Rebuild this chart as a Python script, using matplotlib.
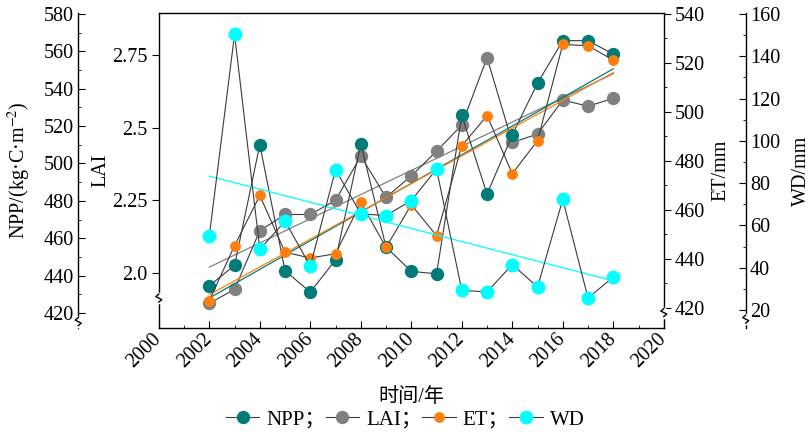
import numpy as np
import matplotlib
matplotlib.use('Agg')
import matplotlib.pyplot as plt
from matplotlib.lines import Line2D
from matplotlib.transforms import IdentityTransform
from matplotlib.ticker import MultipleLocator, FixedLocator

plt.rcParams['font.family'] = ['Liberation Serif', 'Noto Sans CJK SC']
plt.rcParams['mathtext.fontset'] = 'stix'
plt.rcParams['font.size'] = 14.5

## data
years = np.arange(2002, 2019)
npp = [434.6, 445.5, 510.0, 442.6, 431.2, 448.5, 510.5, 455.3, 442.3, 441.0, 525.7, 483.6, 515.3, 543.0, 565.7, 565.7, 558.5]
lai = [1.895, 1.943, 2.145, 2.201, 2.201, 2.250, 2.402, 2.260, 2.334, 2.419, 2.509, 2.741, 2.449, 2.478, 2.595, 2.574, 2.601]
et = [423.0, 445.4, 465.9, 442.7, 440.4, 442.1, 463.1, 444.7, 462.1, 449.5, 486.2, 498.5, 474.8, 488.3, 527.6, 527.0, 521.2]
wd = [55.0, 150.4, 48.7, 62.0, 40.8, 86.4, 65.5, 64.7, 71.8, 86.7, 29.3, 28.6, 41.5, 30.9, 72.3, 25.7, 35.6]

lai_ticks = [2.0, 2.25, 2.5, 2.75]
lai_ticklabels = ['2.0', '2.25', '2.5', '2.75']

c_npp, c_lai, c_et, c_wd = '#007b78', '#808080', '#ff7f0e', '#00ffff'
c_link = '#3a3a3a'

fig = plt.figure(figsize=(8.09, 4.36), dpi=100)
ax = fig.add_axes([0.1963, 0.2477, 0.6242, 0.7225])   # LAI host, owns x axis
ax_npp = ax.twinx()
ax_et = ax.twinx()
ax_wd = ax.twinx()

npp_out, wd_out = 58, 59   # outward offset of the extra spines (pt)

def series(a, y, c, ms, lab):
    k = np.polyfit(years, y, 1)
    a.plot(years, np.polyval(k, years), color=c, lw=0.9, zorder=2)
    h, = a.plot(years, y, '-', color=c_link, lw=0.8, marker='o', ms=ms,
                mfc=c, mec=c, mew=0, zorder=3, label=lab)
    return h

h_lai = series(ax, lai, c_lai, 9.6, 'LAI；')
h_npp = series(ax_npp, npp, c_npp, 9.6, 'NPP；')
h_et = series(ax_et, et, c_et, 7.8, 'ET；')
h_wd = series(ax_wd, wd, c_wd, 10, 'WD')

# limits
ax.set_xlim(2000, 2020)
ax.set_ylim(1.81, 2.895)
ax_npp.set_ylim(412, 580.5)
ax_et.set_ylim(411.8, 540.4)
ax_wd.set_ylim(11.5, 160.5)

# spines
for a in (ax, ax_npp, ax_et, ax_wd):
    for s in a.spines.values():
        s.set_linewidth(1.0)
        s.set_visible(False)
ax.spines['left'].set_visible(True)
ax.spines['bottom'].set_visible(True)
ax.spines['top'].set_visible(True)
ax_npp.spines['left'].set_visible(True)
ax_npp.spines['left'].set_position(('outward', npp_out))
ax_et.spines['right'].set_visible(True)
ax_wd.spines['right'].set_visible(True)
ax_wd.spines['right'].set_position(('outward', wd_out))

# x axis
ax.xaxis.set_major_locator(MultipleLocator(2))
ax.xaxis.set_minor_locator(MultipleLocator(1))
ax.tick_params(axis='x', which='both', direction='in', top=False)
ax.tick_params(axis='x', which='major', length=5, pad=6)
ax.tick_params(axis='x', which='minor', length=2.5)
for t in ax.get_xticklabels():
    t.set_rotation(45)
    t.set_ha('right')
    t.set_va('center')
    t.set_rotation_mode('anchor')
ax.set_xlabel('时间/年', labelpad=12)

# LAI
ax.yaxis.set_major_locator(FixedLocator(lai_ticks))
ax.set_yticklabels(lai_ticklabels)
ax.tick_params(axis='y', direction='out', length=5, pad=3)
ax.set_ylabel('LAI')
ax.yaxis.set_label_coords(-0.0966, 0.5)

# NPP
ax_npp.yaxis.tick_left()
ax_npp.yaxis.set_label_position('left')
ax_npp.yaxis.set_major_locator(MultipleLocator(20))
ax_npp.yaxis.set_minor_locator(MultipleLocator(10))
ax_npp.tick_params(axis='y', which='both', direction='in', left=True, right=False, pad=3)
ax_npp.tick_params(axis='y', which='major', length=5)
ax_npp.tick_params(axis='y', which='minor', length=2.5)
ax_npp.set_ylabel(r'NPP/(kg·C·m$^{-2}$)')
ax_npp.yaxis.set_label_coords(-0.249, 0.5)

# ET
ax_et.yaxis.set_major_locator(MultipleLocator(20))
ax_et.yaxis.set_minor_locator(MultipleLocator(10))
ax_et.tick_params(axis='y', which='both', direction='out', pad=3)
ax_et.tick_params(axis='y', which='major', length=5)
ax_et.tick_params(axis='y', which='minor', length=2.5)
ax_et.set_ylabel('ET/mm')
ax_et.yaxis.set_label_coords(1.095, 0.5)

# WD
ax_wd.yaxis.set_major_locator(MultipleLocator(20))
ax_wd.yaxis.set_minor_locator(MultipleLocator(10))
ax_wd.tick_params(axis='y', which='both', direction='in', pad=3)
ax_wd.tick_params(axis='y', which='major', length=5)
ax_wd.tick_params(axis='y', which='minor', length=2.5)
ax_wd.set_ylabel('WD/mm')
ax_wd.yaxis.set_label_coords(1.253, 0.5)

# little break marks on the y spines
def axis_break(a, x_px, y_val):
    y_px = a.transData.transform((2000, y_val))[1]
    fig.add_artist(Line2D([x_px, x_px], [y_px - 4, y_px + 4], color='white', lw=2.5,
                          transform=IdentityTransform(), zorder=10))
    fig.add_artist(Line2D([x_px, x_px - 3, x_px + 3, x_px], [y_px + 4, y_px + 1.5, y_px - 1.5, y_px - 4],
                          color='black', lw=1.0, transform=IdentityTransform(), zorder=11))

bb = ax.get_window_extent()
axis_break(ax, bb.x0, 1.913)
axis_break(ax_npp, bb.x0 - npp_out * fig.dpi / 72, 415.4)
axis_break(ax_et, bb.x1, 418.1)
axis_break(ax_wd, bb.x1 + wd_out * fig.dpi / 72, 15.7)

fig.legend(handles=[h_npp, h_lai, h_et, h_wd], loc='center', bbox_to_anchor=(0.501, 0.037),
           ncol=4, frameon=False, handlelength=1.6, handletextpad=0.35, columnspacing=0.0,
           fontsize=15)

fig.savefig('out.png', dpi=100)
